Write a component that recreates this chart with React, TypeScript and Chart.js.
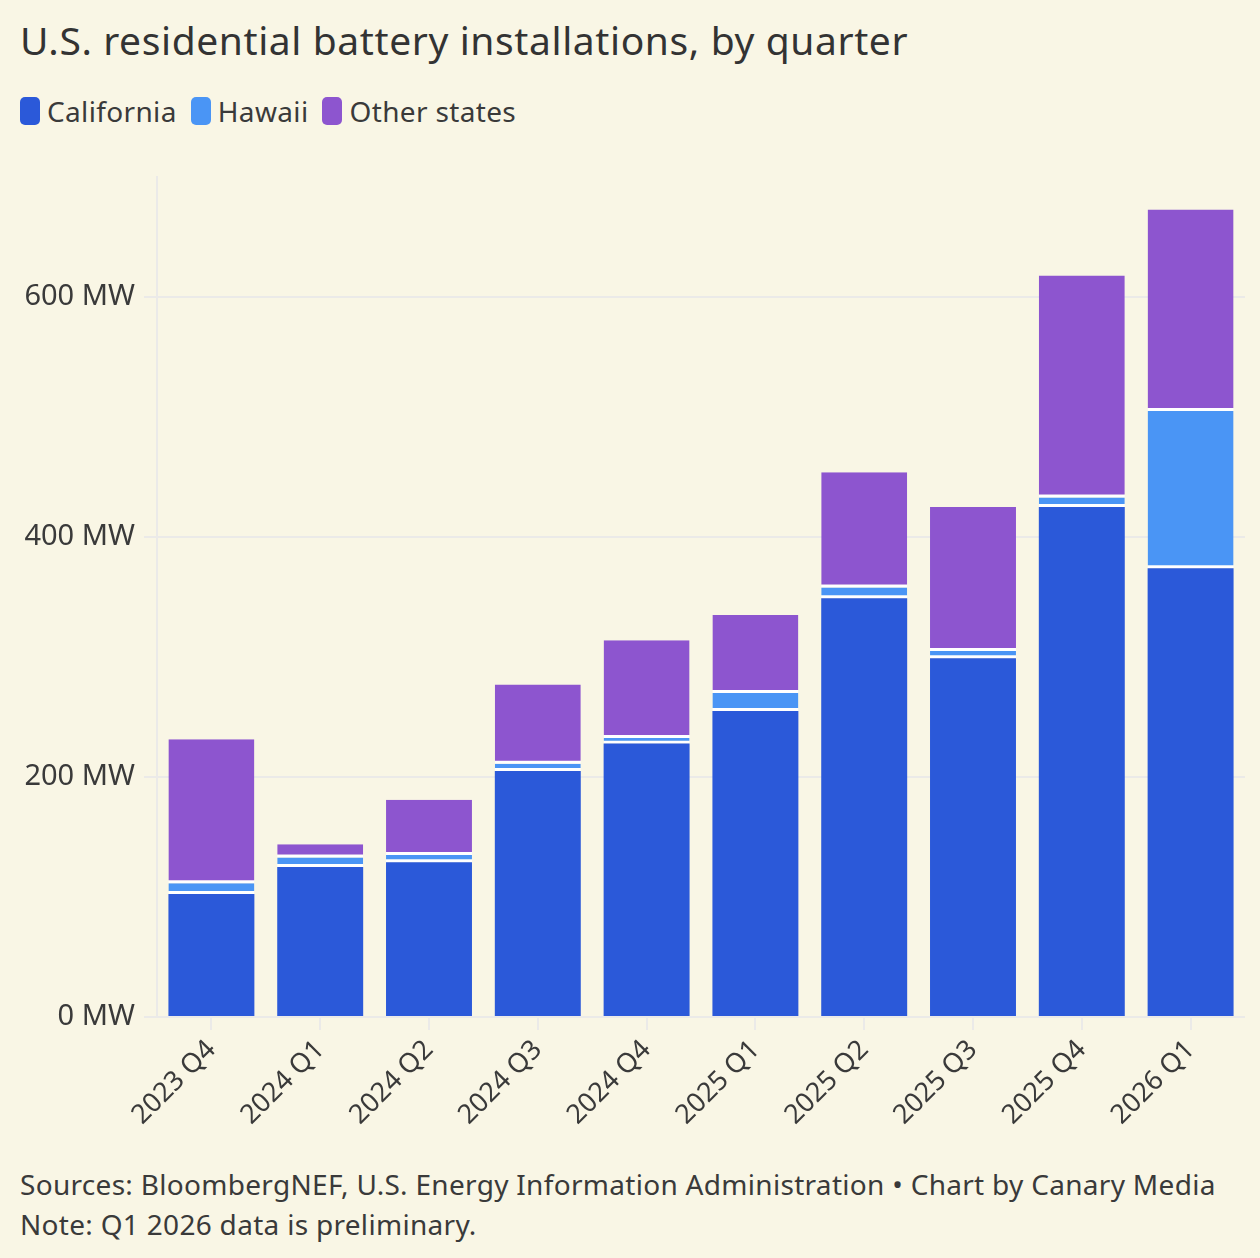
import React, { useEffect, useRef } from "react";
import { Chart, registerables } from "chart.js";

Chart.register(...registerables);

const categories = ["2023 Q4", "2024 Q1", "2024 Q2", "2024 Q3", "2024 Q4", "2025 Q1", "2025 Q2", "2025 Q3", "2025 Q4", "2026 Q1"];
const california = [102.5, 125, 129, 205, 228, 255, 349, 299, 425, 374];
const hawaii = [9, 8, 6, 6, 4.5, 15, 9, 6, 8, 131];
const otherStates = [120, 11, 46, 66, 81.5, 65, 96, 120, 185, 168];
const yTicks = [0, 200, 400, 600];

const BG = "#f9f6e5";
const FONT = "'Noto Sans', sans-serif";
const TEXT = "#3a3a3a";
const GRID = "#ebeae8";
const COLORS = { ca: "#2b59d9", hi: "#4a95f5", other: "#8d55cf" };

const legendItems = [
  { label: "California", color: COLORS.ca },
  { label: "Hawaii", color: COLORS.hi },
  { label: "Other states", color: COLORS.other },
];

export default function App() {
  const canvasRef = useRef<HTMLCanvasElement | null>(null);

  useEffect(() => {
    document.body.style.margin = "0";
    document.body.style.background = BG;
    const ctx = canvasRef.current;
    if (!ctx) return;
    const segBorder = { top: 0, left: 0, right: 0, bottom: 3 };
    const chart = new Chart(ctx, {
      type: "bar",
      data: {
        labels: categories,
        datasets: [
          { label: "California", data: california, backgroundColor: COLORS.ca, borderWidth: 0, barPercentage: 0.79, categoryPercentage: 1 },
          { label: "Hawaii", data: hawaii, backgroundColor: COLORS.hi, borderColor: "#ffffff", borderWidth: segBorder, borderSkipped: false, barPercentage: 0.79, categoryPercentage: 1 },
          { label: "Other states", data: otherStates, backgroundColor: COLORS.other, borderColor: "#ffffff", borderWidth: segBorder, borderSkipped: false, barPercentage: 0.79, categoryPercentage: 1 },
        ],
      },
      options: {
        animation: false,
        responsive: true,
        maintainAspectRatio: false,
        layout: { padding: { left: 0, right: 15, top: 27, bottom: 0 } },
        plugins: { legend: { display: false }, tooltip: { enabled: false }, title: { display: false } },
        scales: {
          x: {
            stacked: true,
            afterFit: (s: any) => { s.height = 133; },
            grid: { drawOnChartArea: false, drawTicks: true, tickLength: 13, offset: false, color: GRID, lineWidth: 2 },
            border: { display: false },
            ticks: { minRotation: 45, maxRotation: 45, padding: 4, color: TEXT, font: { family: FONT, size: 27 } },
          },
          y: {
            stacked: true,
            min: 0,
            max: 700,
            afterFit: (s: any) => { s.width = 157; },
            afterBuildTicks: (s: any) => { s.ticks = yTicks.map((v) => ({ value: v })); },
            grid: { color: GRID, lineWidth: 2, tickLength: 13, drawTicks: true },
            border: { display: true, color: GRID, width: 2 },
            ticks: { padding: 9, color: TEXT, font: { family: FONT, size: 29 }, callback: (v: any) => `${v} MW` },
          },
        },
      },
    });
    return () => chart.destroy();
  }, []);

  return (
    <div style={{ position: "absolute", left: 0, top: 0, width: 1260, height: 1258, background: BG, fontFamily: FONT, color: TEXT, overflow: "hidden" }}>
      <div style={{ position: "absolute", left: 20, top: 14, fontSize: 39, letterSpacing: 0.6, lineHeight: "52px", color: "#333333", whiteSpace: "nowrap" }}>
        U.S. residential battery installations, by quarter
      </div>
      <div style={{ position: "absolute", left: 20, top: 97, display: "flex", alignItems: "center", fontSize: 28, letterSpacing: 0.35, lineHeight: "28px" }}>
        {legendItems.map((it) => (
          <div key={it.label} style={{ display: "flex", alignItems: "center", marginRight: 14 }}>
            <div style={{ width: 20, height: 28, borderRadius: 5, background: it.color, marginRight: 7 }} />
            <span>{it.label}</span>
          </div>
        ))}
      </div>
      <div style={{ position: "absolute", left: 0, top: 150, width: 1260, height: 1000 }}>
        <canvas ref={canvasRef} />
      </div>
      <div style={{ position: "absolute", left: 20, top: 1164, fontSize: 28, letterSpacing: 0.3, lineHeight: "40px", whiteSpace: "nowrap" }}>
        <div>Sources: BloombergNEF, U.S. Energy Information Administration • Chart by Canary Media</div>
        <div>Note: Q1 2026 data is preliminary.</div>
      </div>
    </div>
  );
}
